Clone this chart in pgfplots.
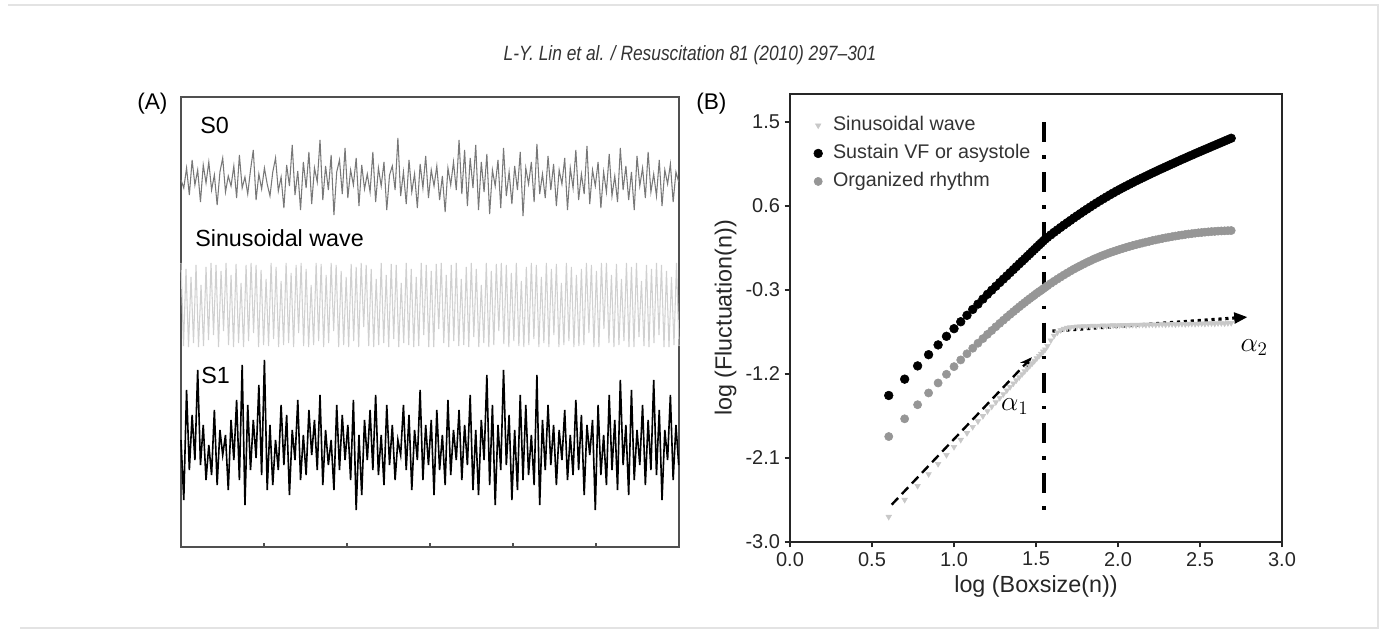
\documentclass[border=0pt]{standalone}
\usepackage{pgfplots}
\pgfplotsset{compat=1.18}
\usepackage{pgfplotstable}
\usepackage{fontspec}
\setmainfont{Liberation Sans}
\newfontfamily\hdrfont[FakeStretch=0.84]{Liberation Sans}
\usetikzlibrary{arrows.meta}
\definecolor{sinegray}{RGB}{208,208,208}
\definecolor{trig}{RGB}{200,200,200}
\definecolor{orggray}{RGB}{150,150,150}
\definecolor{s0gray}{RGB}{120,120,120}
\definecolor{frame}{RGB}{80,80,80}

% panel A traces: deviation from the trace centre, in pixels (up = positive)
\pgfplotstableread[row sep=\\]{v\\
0\\ -8\\ 12\\ -15\\ 20\\ -5\\ 10\\ -22\\ 15\\ -3\\
18\\ -10\\ 5\\ -25\\ 8\\ 22\\ -12\\ 4\\ -6\\ 14\\
-18\\ 25\\ -8\\ 3\\ -14\\ 10\\ 30\\ -20\\ 6\\ -9\\
12\\ -4\\ -16\\ 8\\ 22\\ -11\\ 3\\ -28\\ 15\\ -6\\
35\\ -15\\ 9\\ -30\\ 18\\ -8\\ 28\\ -24\\ 12\\ -2\\
40\\ -20\\ 14\\ -10\\ 25\\ -35\\ 8\\ 20\\ -14\\ 32\\
-18\\ 10\\ -5\\ 22\\ -26\\ 15\\ -9\\ 6\\ -12\\ 28\\
-22\\ 12\\ -6\\ 18\\ -30\\ 5\\ 14\\ -10\\ 42\\ -16\\
8\\ -24\\ 20\\ -12\\ 6\\ -28\\ 16\\ -8\\ 24\\ -18\\
10\\ -6\\ 14\\ -20\\ 4\\ -32\\ 12\\ -5\\ 18\\ -10\\
40\\ -14\\ 30\\ -26\\ 22\\ -8\\ 35\\ -30\\ 18\\ -12\\
26\\ -34\\ 10\\ -6\\ 20\\ -28\\ 32\\ -16\\ 8\\ -24\\
14\\ -10\\ 28\\ -36\\ 12\\ -4\\ 18\\ -22\\ 36\\ -14\\
6\\ -18\\ 24\\ -10\\ 16\\ -26\\ 10\\ -4\\ 22\\ -30\\
12\\ -8\\ 30\\ -20\\ 6\\ -14\\ 34\\ -24\\ 10\\ -6\\
18\\ -28\\ 8\\ -12\\ 26\\ -16\\ 4\\ -22\\ 32\\ -10\\
14\\ -20\\ 8\\ -30\\ 24\\ -6\\ 12\\ -18\\ 28\\ -12\\
6\\ -16\\ 20\\ -26\\ 10\\ -4\\ 16\\ -22\\ 8\\ -2\\
}\szero

\pgfplotstableread[row sep=\\]{v\\
42\\ -41\\ 36\\ -42\\ 28\\ -38\\ 40\\ -42\\ 20\\ -41\\
38\\ -35\\ 42\\ -30\\ 40\\ -42\\ 34\\ -26\\ 42\\ -40\\
30\\ -42\\ 41\\ -38\\ 22\\ -42\\ 40\\ -36\\ 42\\ -28\\
40\\ -42\\ 35\\ -40\\ 26\\ -41\\ 42\\ -34\\ 38\\ -42\\
24\\ -40\\ 42\\ -38\\ 32\\ -42\\ 40\\ -28\\ 42\\ -41\\
36\\ -42\\ 20\\ -40\\ 42\\ -36\\ 41\\ -42\\ 30\\ -38\\
42\\ -26\\ 40\\ -42\\ 34\\ -40\\ 28\\ -42\\ 41\\ -36\\
38\\ -42\\ 42\\ -22\\ 40\\ -41\\ 36\\ -42\\ 26\\ -40\\
42\\ -38\\ 30\\ -42\\ 41\\ -34\\ 40\\ -42\\ 22\\ -38\\
42\\ -40\\ 36\\ -42\\ 28\\ -41\\ 42\\ -30\\ 40\\ -42\\
34\\ -42\\ 41\\ -24\\ 42\\ -38\\ 30\\ -42\\ 40\\ -36\\
42\\ -41\\ 26\\ -40\\ 38\\ -42\\ 42\\ -32\\ 36\\ -42\\
20\\ -38\\ 42\\ -42\\ 34\\ -40\\ 41\\ -26\\ 42\\ -39\\
40\\ -42\\ 32\\ -36\\ 42\\ -41\\ 24\\ -42\\ 38\\ -40\\
42\\ -34\\ 40\\ -42\\ 28\\ -38\\ 42\\ -42\\ 36\\ -30\\
41\\ -42\\ 22\\ -40\\ 42\\ -36\\ 38\\ -42\\ 30\\ -41\\
36\\ -40\\ 42\\ -28\\ 40\\ -42\\ 34\\ -42\\ 42\\ -24\\
42\\ -38\\ 30\\ -42\\ 41\\ -40\\ 26\\ -36\\ 42\\ -42\\
38\\ -42\\ 42\\ -32\\ 24\\ -41\\ 40\\ -42\\ 36\\ -38\\
42\\ -30\\ 40\\ -42\\ 34\\ -42\\ 28\\ -40\\ 42\\ -41\\
}\sine

\pgfplotstableread[row sep=\\]{v\\
10\\ -50\\ 60\\ -20\\ 35\\ -10\\ 80\\ -15\\ 25\\ -30\\
5\\ -25\\ 40\\ -35\\ 20\\ -5\\ 15\\ -40\\ 30\\ -10\\
50\\ -30\\ 85\\ -55\\ 45\\ -20\\ 30\\ -8\\ 65\\ -25\\
90\\ -40\\ 25\\ -35\\ 10\\ -20\\ 45\\ -15\\ 35\\ -45\\
20\\ -10\\ 50\\ -30\\ 15\\ -25\\ 40\\ -5\\ 30\\ -20\\
55\\ -35\\ 20\\ -15\\ 10\\ -40\\ 45\\ -20\\ 35\\ -10\\
25\\ -30\\ 50\\ -60\\ 15\\ -45\\ 30\\ -10\\ 40\\ -20\\
55\\ -25\\ 15\\ -35\\ 45\\ -15\\ 25\\ -30\\ 10\\ -5\\
45\\ -20\\ 35\\ -40\\ 20\\ -10\\ 60\\ -30\\ 25\\ -15\\
30\\ -45\\ 40\\ -20\\ 15\\ -35\\ 50\\ -25\\ 20\\ -10\\
40\\ -30\\ 25\\ -15\\ 55\\ -40\\ 20\\ -45\\ 30\\ -10\\
75\\ -35\\ 45\\ -55\\ 25\\ -20\\ 80\\ -15\\ 35\\ -50\\
20\\ -40\\ 55\\ -30\\ 45\\ -25\\ 15\\ -35\\ 75\\ -55\\
30\\ -20\\ 45\\ -15\\ 25\\ -35\\ 20\\ -10\\ 40\\ -30\\
15\\ -25\\ 50\\ -20\\ 35\\ -45\\ 25\\ -5\\ 30\\ -60\\
45\\ -25\\ 15\\ -35\\ 55\\ -20\\ 30\\ -40\\ 70\\ -15\\
25\\ -45\\ 60\\ -30\\ 20\\ -15\\ 45\\ -35\\ 30\\ -20\\
70\\ -25\\ 40\\ -50\\ 20\\ -10\\ 55\\ -30\\ 25\\ -15\\
}\sone

% panel B: log boxsize against log fluctuation
\pgfplotstableread{
x sin vf org
0.602 -2.730 -1.430 -1.870
0.699 -2.548 -1.255 -1.680
0.778 -2.399 -1.113 -1.529
0.845 -2.273 -0.993 -1.403
0.903 -2.164 -0.888 -1.296
0.954 -2.068 -0.796 -1.203
1.000 -1.982 -0.714 -1.121
1.041 -1.905 -0.640 -1.049
1.079 -1.833 -0.571 -0.983
1.114 -1.767 -0.508 -0.924
1.146 -1.707 -0.451 -0.870
1.176 -1.651 -0.397 -0.821
1.204 -1.598 -0.346 -0.775
1.230 -1.549 -0.302 -0.734
1.255 -1.502 -0.260 -0.694
1.279 -1.457 -0.220 -0.657
1.301 -1.416 -0.183 -0.623
1.322 -1.376 -0.148 -0.591
1.342 -1.339 -0.114 -0.561
1.362 -1.301 -0.081 -0.532
1.380 -1.267 -0.050 -0.506
1.398 -1.234 -0.020 -0.480
1.415 -1.202 0.008 -0.456
1.431 -1.171 0.035 -0.434
1.447 -1.141 0.062 -0.412
1.462 -1.113 0.087 -0.392
1.477 -1.085 0.113 -0.372
1.491 -1.059 0.136 -0.354
1.505 -1.032 0.160 -0.335
1.519 -1.006 0.183 -0.318
1.531 -0.983 0.203 -0.303
1.544 -0.959 0.225 -0.287
1.556 -0.936 0.245 -0.271
1.57 -0.900 0.264 -0.254
1.59 -0.840 0.291 -0.229
1.61 -0.790 0.318 -0.206
1.63 -0.755 0.344 -0.183
1.65 -0.730 0.370 -0.161
1.67 -0.715 0.396 -0.139
1.69 -0.705 0.421 -0.118
1.71 -0.700 0.446 -0.097
1.73 -0.695 0.471 -0.077
1.75 -0.692 0.495 -0.058
1.77 -0.690 0.519 -0.040
1.79 -0.688 0.543 -0.022
1.81 -0.690 0.566 -0.004
1.83 -0.686 0.589 0.012
1.85 -0.684 0.612 0.029
1.87 -0.687 0.634 0.044
1.89 -0.683 0.656 0.059
1.91 -0.681 0.677 0.073
1.93 -0.684 0.698 0.086
1.95 -0.680 0.719 0.099
1.97 -0.678 0.739 0.111
1.99 -0.681 0.759 0.123
2.01 -0.677 0.778 0.135
2.03 -0.675 0.797 0.146
2.05 -0.678 0.815 0.157
2.07 -0.674 0.833 0.167
2.09 -0.673 0.851 0.177
2.11 -0.676 0.869 0.186
2.13 -0.672 0.886 0.195
2.15 -0.671 0.903 0.204
2.17 -0.674 0.920 0.213
2.19 -0.670 0.937 0.221
2.21 -0.669 0.954 0.230
2.23 -0.672 0.970 0.237
2.25 -0.668 0.987 0.245
2.27 -0.667 1.003 0.252
2.29 -0.670 1.019 0.259
2.31 -0.666 1.035 0.266
2.33 -0.665 1.051 0.272
2.35 -0.668 1.067 0.278
2.37 -0.664 1.083 0.284
2.39 -0.663 1.099 0.289
2.41 -0.666 1.114 0.295
2.43 -0.662 1.130 0.300
2.45 -0.661 1.145 0.304
2.47 -0.664 1.161 0.309
2.49 -0.660 1.176 0.313
2.51 -0.659 1.191 0.316
2.53 -0.662 1.206 0.320
2.55 -0.658 1.221 0.323
2.57 -0.657 1.236 0.326
2.59 -0.660 1.251 0.328
2.61 -0.656 1.266 0.331
2.63 -0.655 1.281 0.333
2.65 -0.658 1.296 0.334
2.67 -0.654 1.311 0.336
2.69 -0.653 1.326 0.337
}\dfa

\begin{document}
\begin{tikzpicture}
\begin{scope}[x=0.75bp,y=-0.75bp]
  \path[use as bounding box] (0,0) rectangle (1383,634);
  \draw[gray!22, line width=0.8bp] (8,5) -- (1378,5) -- (1378,628) -- (20,628);
  \node[inner sep=0pt, text=black!80, font=\hdrfont\itshape\fontsize{15.5bp}{18bp}\selectfont]
    at (690,55) {L-Y. Lin et al. / Resuscitation 81 (2010) 297–301};
  \node[anchor=west, inner sep=0pt, font=\fontsize{17bp}{20bp}\selectfont] at (137,104) {(A)};
  \node[anchor=west, inner sep=0pt, font=\fontsize{17bp}{20bp}\selectfont] at (696,104) {(B)};
\end{scope}

% ---- panel A ----
\begin{axis}[
  at={(135.75bp,-410.25bp)}, anchor=south west,
  scale only axis, width=373.5bp, height=337.5bp,
  xmin=0, xmax=6, ymin=0, ymax=450,
  xtick={1,2,3,4,5}, xticklabels={}, ytick=\empty,
  tick pos=left, tick align=inside, major tick length=3bp,
  axis line style={frame, line width=1.5bp},
  tick style={frame, line width=1bp},
  clip=false,
]
\addplot[s0gray, line width=0.8bp] table[x index=0, y index=0, x expr=\coordindex*0.0335, y expr=\thisrow{v}+367] {\szero};
\addplot[sinegray, line width=0.8bp] table[x index=0, y index=0, x expr=\coordindex*0.03015, y expr=\thisrow{v}+242] {\sine};
\addplot[black, line width=1.2bp] table[x index=0, y index=0, x expr=\coordindex*0.0335, y expr=\thisrow{v}+97] {\sone};
\end{axis}

\begin{scope}[x=0.75bp,y=-0.75bp]
  \node[anchor=west, inner sep=0pt, font=\fontsize{17.5bp}{20bp}\selectfont] at (200,125) {S0};
  \node[anchor=west, inner sep=0pt, font=\fontsize{17.5bp}{20bp}\selectfont] at (195,238) {Sinusoidal wave};
  \node[anchor=west, inner sep=0pt, font=\fontsize{17.5bp}{20bp}\selectfont] at (201,375) {S1};
\end{scope}

% ---- panel B ----
\begin{axis}[
  at={(592.5bp,-406.5bp)}, anchor=south west,
  scale only axis, width=369bp, height=336bp,
  xmin=0, xmax=3, ymin=-3, ymax=1.8,
  xtick={0,0.5,1,1.5,2,2.5,3},
  ytick={-3,-2.1,-1.2,-0.3,0.6,1.5},
  tick pos=left, tick align=outside, major tick length=4bp,
  axis line style={black!85, line width=1.5bp},
  tick style={black!85, line width=1bp},
  /pgf/number format/fixed, /pgf/number format/fixed zerofill,
  /pgf/number format/precision=1,
  /pgf/number format/assume math mode=true,
  ticklabel style={font=\fontsize{15bp}{18bp}\selectfont, text=black!85},
  label style={font=\fontsize{17.5bp}{20bp}\selectfont, text=black!85},
  xlabel={log (Boxsize(n))},
  ylabel={log (Fluctuation(n))},
  legend image code/.code={\path (0cm,0cm) (0.6cm,0cm);\draw[mark repeat=2,mark phase=2,#1] plot coordinates {(0cm,0cm) (0.25cm,0cm) (0.6cm,0cm)};},
  legend style={draw=none, fill=none, at={(0.037,0.955)}, anchor=north west,
    inner sep=0pt, row sep=4.5bp,
    nodes={inner sep=1bp, text height=11bp, text depth=3.5bp,
      font=\fontsize{14.8bp}{18bp}\selectfont, text=black!80}},
  legend cell align=left,
  clip=false,
]
\addplot[only marks, mark=triangle*, mark size=2.4pt, trig, mark options={rotate=180, fill=trig, draw=trig}] table[x=x, y=sin] {\dfa};
\addplot[only marks, mark=*, mark size=3.3pt, black] table[x=x, y=vf] {\dfa};
\addplot[only marks, mark=*, mark size=3.1pt, orggray] table[x=x, y=org] {\dfa};
\legend{Sinusoidal wave, Sustain VF or asystole, Organized rhythm}

\draw[black, line width=2.6bp, dash pattern=on 15bp off 10bp on 2.6bp off 10bp]
  (axis cs:1.55,1.5) -- (axis cs:1.55,-2.72);
\draw[black, line width=1.8bp, dash pattern=on 7bp off 4bp, -{Stealth[length=9bp,width=7bp]}]
  (axis cs:0.62,-2.6) -- (axis cs:1.475,-1.02);
\draw[black, line width=2.4bp, dash pattern=on 2.4bp off 2.8bp, -{Triangle[length=10bp,width=8bp]}]
  (axis cs:1.6,-0.74) -- (axis cs:2.79,-0.59);
\node[font=\fontsize{19bp}{22bp}\selectfont] at (axis cs:1.37,-1.55) {$\alpha_1$};
\node[font=\fontsize{19bp}{22bp}\selectfont] at (axis cs:2.83,-0.92) {$\alpha_2$};
\end{axis}
\end{tikzpicture}
\end{document}
